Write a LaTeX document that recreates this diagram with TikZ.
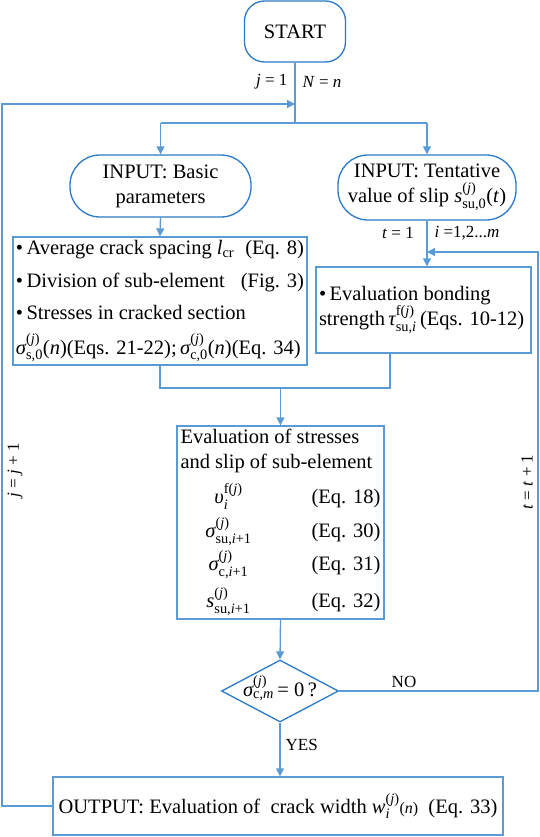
\documentclass[tikz,border=0pt]{standalone}
\usepackage{amsmath}
\usepackage{fontspec}
\setmainfont{Liberation Serif}
\usetikzlibrary{arrows.meta,shapes.geometric}
\definecolor{ln}{HTML}{5B9BD5}
\definecolor{rd}{HTML}{2A7AC8}
\newcommand\mvar[1]{\text{\itshape #1}}
\newcommand\jsup{\text{(\itshape j\/\upshape)}}
\begin{document}
\begin{tikzpicture}[x=1pt,y=-1pt, line width=1.3pt,
  every node/.style={font=\fontsize{20.5}{25}\selectfont},
  arr/.style={draw=ln,-{Triangle[length=8pt,width=8pt]}},
  conn/.style={draw=ln},
  boxn/.style={draw=ln, rectangle, inner sep=0pt},
  term/.style={draw=rd, rounded corners=20pt, inner sep=0pt},
  stad/.style={draw=rd, rounded corners=30pt, inner sep=0pt, align=center},
  dec/.style={draw=rd, diamond, inner sep=0pt},
  lbl/.style={font=\fontsize{17}{20}\selectfont, inner sep=0pt}]
\useasboundingbox (0,0) rectangle (540,837);

% nodes
\node[term, minimum width=101pt, minimum height=61pt] (start) at (295,31.5) {START};
\node[stad, minimum width=181pt, minimum height=62pt] (inL) at (160.5,186) {INPUT: Basic\\parameters};
\node[stad, minimum width=178pt, minimum height=65pt] (inR) at (427,187.5)
  {INPUT: Tentative\\value of slip $\mvar{s}^{\jsup}_{\text{su,0}}$(\textit{t})};
\node[boxn, minimum width=294pt, minimum height=128pt] (boxL) at (160,301)
  {\parbox{288pt}{\setlength\lineskiplimit{-30pt}\setlength\lineskip{0pt}%
   \raggedright
   •\,Average crack spacing $\mvar{l}_{\text{cr}}$\hfill(Eq. 8)\\[8pt]
   •\,Division of sub-element\hfill(Fig. 3)\\[7pt]
   •\,Stresses in cracked section\\[10pt]
   $\mvar{σ}^{\jsup}_{\text{s,0}}$(\textit{n})(Eqs. 21-22);\,$\mvar{σ}^{\jsup}_{\text{c,0}}$(\textit{n})(Eq. 34)}};
\node[boxn, minimum width=215pt, minimum height=86pt] (boxR) at (423.5,310)
  {\parbox{209pt}{\fontsize{20.5}{25}\selectfont\setlength\lineskiplimit{-30pt}\setlength\lineskip{0pt}%
   •\,Evaluation bonding\\
   strength\,$\mvar{τ}^{\text{f}\jsup}_{\text{su,}\mvar{i}}$\,(Eqs. 10-12)}};
\node[boxn, minimum width=207pt, minimum height=193pt] (eval) at (280.5,522.5)
  {\parbox{200pt}{\setlength\lineskiplimit{-30pt}\setlength\lineskip{0pt}%
   \raggedright
   Evaluation of stresses\\
   and slip of sub-element\\[10pt]
   \makebox[96pt]{$\mvar{υ}^{\text{f}\jsup}_{\mvar{i}}$}\hfill(Eq. 18)\\[9pt]
   \makebox[96pt]{$\mvar{σ}^{\jsup}_{\text{su,}\mvar{i}\text{+1}}$}\hfill(Eq. 30)\\[8pt]
   \makebox[96pt]{$\mvar{σ}^{\jsup}_{\text{c,}\mvar{i}\text{+1}}$}\hfill(Eq. 31)\\[12pt]
   \makebox[96pt]{$\mvar{s}^{\jsup}_{\text{su,}\mvar{i}\text{+1}}$}\hfill(Eq. 32)}};
\node[dec, minimum width=117pt, minimum height=62pt] (dia) at (280,691)
  {\smash{\raisebox{-5pt}{\makebox[0pt]{$\mvar{σ}^{\jsup}_{\text{c,}\mvar{m}}$\,= 0\,?}}}};
\node[boxn, minimum width=450pt, minimum height=58pt] (out) at (278,806)
  {OUTPUT: Evaluation of\ \ crack width $\mvar{w}^{\jsup}_{\mvar{i}}${\fontsize{16}{18}\selectfont(\textit{n})}\ \ (Eq. 33)};

% helper coordinates
\coordinate (yj) at (0,123);
\coordinate (yl) at (0,104);
\coordinate (xl) at (2,104);
\coordinate (ym) at (0,388);
\coordinate (xm) at (390,388);
\coordinate (rl) at (538,252);
\coordinate (jn) at (start.south |- yj);
\coordinate (jL) at (inL.north |- yj);
\coordinate (jR) at (inR.north |- yj);

% connectors
\draw[conn] (start.south) -- (jn);
\draw[conn] (jL) -- (jR);
\draw[arr] (jL) -- (inL.north);
\draw[arr] (jR) -- (inR.north);
\draw[arr] (inL.south) -- (boxL.north);
\draw[arr] (inR.south) -- (inR.south |- boxR.north);
\draw[conn] (boxL.south) |- (xm) -- (xm |- boxR.south);
\draw[arr] (eval.north |- ym) -- (eval.north);
\draw[arr] (eval.south) -- (dia.north);
\draw[arr] (dia.south) -- (dia.south |- out.north);
\draw[arr] (dia.east) -| (rl) -- (inR.south |- rl);
\draw[arr] (out.west) -| (xl) -- (start.south |- yl);

% labels
\node[lbl, anchor=east] (lj1) at (288,82) {\textit{j} = 1};
\node[lbl, anchor=west] (lN) at (302,82) {\textit{N} = \textit{n}};
\node[lbl] (lt1) at (398,233) {\textit{t} = 1};
\node[lbl] (li) at (467,233) {\textit{i} =1,2...\textit{m}};
\node[lbl] (lno) at (404,682) {NO};
\node[lbl, anchor=west] (lyes) at (285,745) {YES};
\node[lbl, rotate=90] (ljj) at (15,470) {\textit{j} = \textit{j} + 1};
\node[lbl, rotate=90] (ltt) at (527,482) {\textit{t} = \textit{t} + 1};
\end{tikzpicture}
\end{document}
